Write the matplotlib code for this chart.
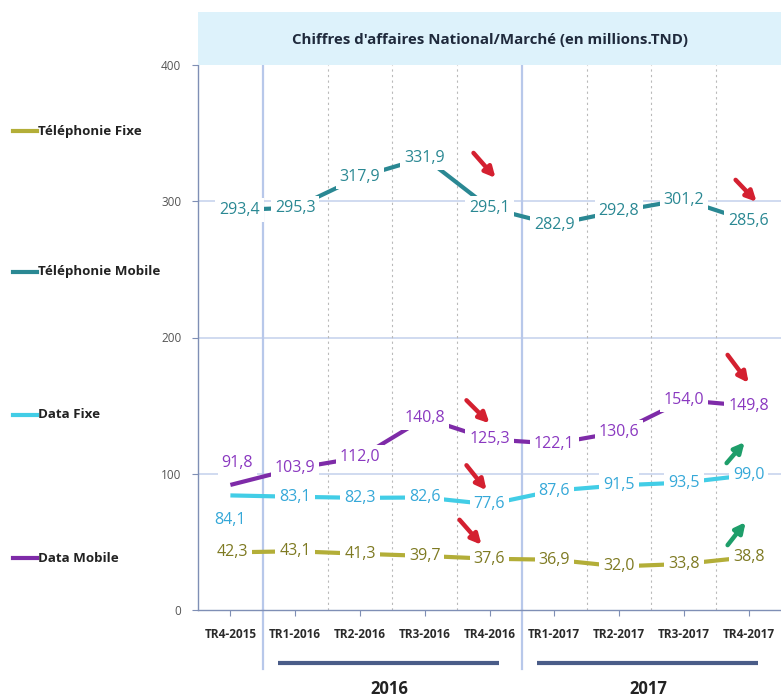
import matplotlib
matplotlib.use("Agg")
import matplotlib.pyplot as plt
from matplotlib.lines import Line2D
from matplotlib.patches import Rectangle
from matplotlib.transforms import offset_copy
import numpy as np

plt.rcParams['font.family'] = ['Open Sans', 'DejaVu Sans']

categories = ["TR4-2015", "TR1-2016", "TR2-2016", "TR3-2016", "TR4-2016",
              "TR1-2017", "TR2-2017", "TR3-2017", "TR4-2017"]
tel_fixe = [42.3, 43.1, 41.3, 39.7, 37.6, 36.9, 32.0, 33.8, 38.8]
tel_mobile = [293.4, 295.3, 317.9, 331.9, 295.1, 282.9, 292.8, 301.2, 285.6]
data_fixe = [84.1, 83.1, 82.3, 82.6, 77.6, 87.6, 91.5, 93.5, 99.0]
data_mobile = [91.8, 103.9, 112.0, 140.8, 125.3, 122.1, 130.6, 154.0, 149.8]
series_names = ["Téléphonie Fixe", "Téléphonie Mobile", "Data Fixe", "Data Mobile"]
years = ["2016", "2017"]
title = "Chiffres d'affaires National/Marché (en millions.TND)"
yticks = [0, 100, 200, 300, 400]

line_colors = ["#B3AE38", "#2A8893", "#42CDE6", "#7E2BA8"]
text_colors = ["#7E7A22", "#2A8893", "#35A8D8", "#8A38C0"]
series = [tel_fixe, tel_mobile, data_fixe, data_mobile]

W, H = 781, 698
fig = plt.figure(figsize=(W / 100, H / 100), dpi=100)
ax_left, ax_right, ax_top, ax_bot = 198, 781, 65, 610
ax = fig.add_axes([ax_left / W, (H - ax_bot) / H, (ax_right - ax_left) / W, (ax_bot - ax_top) / H])
n = len(categories)
x = np.arange(n)
ax.set_xlim(-0.5, n - 0.5)
ax.set_ylim(0, 400)

for s in ["top", "right"]:
    ax.spines[s].set_visible(False)
ax.spines["left"].set_color("#7F8FB5")
ax.spines["bottom"].set_color("#7F8FB5")
ax.spines["left"].set_linewidth(1.0)
ax.spines["bottom"].set_linewidth(1.0)

# grid
for yv in yticks[1:-1]:
    ax.axhline(yv, color="#C8D4EE", lw=1.2, zorder=0)
for b in np.arange(0.5, n - 0.5, 1.0):
    if b in (0.5, 4.5):
        ax.plot([b, b], [400, 0], color="#B8C8EA", lw=1.6, zorder=0)
    else:
        ax.axvline(b, color="#B9B9B9", lw=0.8, ls=(0, (2, 3)), zorder=0)

ax.set_yticks(yticks)
ax.set_yticklabels([str(v) for v in yticks], fontsize=8.5, color="#555555")
ax.tick_params(axis="y", length=4, color="#7F8FB5", pad=8)
ax.set_xticks(x)
ax.set_xticklabels(categories, fontsize=8.5, color="#2A2A2A", fontweight="bold")
ax.tick_params(axis="x", length=4, color="#7F8FB5", pad=9)

# lines and labels
label_offsets = {(2, 0): (0, -25), (3, 0): (7, 22), (1, 0): (9, 0), (0, 0): (2, 0)}
for si, (vals, lc, tc) in enumerate(zip(series, line_colors, text_colors)):
    ax.plot(x, vals, color=lc, lw=3, zorder=2, solid_capstyle="butt")
    for i, v in enumerate(vals):
        dx, dy = label_offsets.get((si, i), (0, 0))
        ax.annotate(f"{v:.1f}".replace(".", ","), (i, v), xytext=(dx, dy),
                    textcoords="offset pixels", ha="center", va="center",
                    fontsize=11.5, color=tc, zorder=4,
                    bbox=dict(boxstyle="square,pad=0.25", fc="white", ec="none"))

# arrows (offsets in pixels from data point: head, tail)
red, green = "#D42030", "#1E9E6A"
arrows = [
    (1, 4, red, (6, 30), (-16, 55)),
    (1, 8, red, (8, 19), (-13, 41)),
    (3, 4, red, (0, 16), (-23, 39)),
    (2, 4, red, (-3, 14), (-23, 39)),
    (0, 4, red, (-8, 14), (-30, 39)),
    (3, 8, red, (0, 23), (-21, 51)),
    (2, 8, green, (-4, 33), (-22, 12)),
    (0, 8, green, (-3, 35), (-21, 12)),
]
for si, i, col, head, tail in arrows:
    v = series[si][i]
    th = offset_copy(ax.transData, fig=fig, x=head[0], y=head[1], units="dots")
    tt = offset_copy(ax.transData, fig=fig, x=tail[0], y=tail[1], units="dots")
    hx, hy = th.transform((i, v))
    tx, ty = tt.transform((i, v))
    ax.annotate("", xy=(hx, hy), xycoords="figure pixels", xytext=(tx, ty),
                textcoords="figure pixels",
                arrowprops=dict(arrowstyle="-|>", color=col, lw=3.2, mutation_scale=15,
                                shrinkA=0, shrinkB=0), zorder=5)

# title box
fig.patches.append(Rectangle((ax_left / W, (H - ax_top) / H), (ax_right - ax_left) / W,
                             (ax_top - 12) / H, transform=fig.transFigure,
                             fc="#DDF2FB", ec="none", zorder=0))
fig.text((ax_left + ax_right) / 2 / W, (H - 40) / H, title, ha="center", va="center",
         fontsize=10.8, color="#1F2A3C", fontweight="bold")

# year separators below axis
for b in (0.5, 4.5):
    ax.plot([b, b], [0, -43], color="#B8C8EA", lw=1.6, clip_on=False, zorder=0)
year_spans = [(1, 4), (5, 8)]
for (a, bb), yr in zip(year_spans, years):
    ax.plot([a - 0.27, bb + 0.15], [-39, -39], color="#4A5C88", lw=3, clip_on=False,
            solid_capstyle="butt")
    ax.text((a + bb) / 2 - 0.05, -58, yr, ha="center", va="center", fontsize=12,
            fontweight="bold", color="#222222", clip_on=False)

# legend on left
leg_y = [131, 272, 415, 558]
for name, lc, py in zip(series_names, line_colors, leg_y):
    fig.add_artist(Line2D([13 / W, 37 / W], [(H - py) / H, (H - py) / H],
                          color=lc, lw=3, transform=fig.transFigure))
    fig.text(38 / W, (H - py) / H, name, ha="left", va="center", fontsize=9.6,
             fontweight="bold", color="#222222")

fig.savefig("out.png", dpi=100)
